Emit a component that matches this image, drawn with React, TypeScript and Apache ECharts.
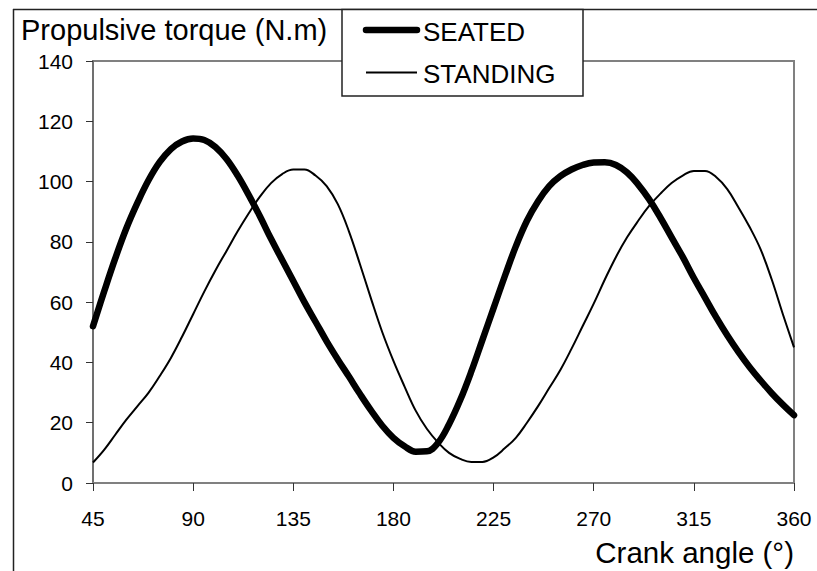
import React, { useEffect, useRef } from "react";
import * as echarts from "echarts";

// Crank angle (degrees) sampled every 5°
const angles: number[] = [
  45, 50, 55, 60, 65, 70, 75, 80, 85, 90, 95, 100, 105, 110, 115, 120,
  125, 130, 135, 140, 145, 150, 155, 160, 165, 170, 175, 180, 185, 190, 195, 200,
  205, 210, 215, 220, 225, 230, 235, 240, 245, 250, 255, 260, 265, 270, 275, 280,
  285, 290, 295, 300, 305, 310, 315, 320, 325, 330, 335, 340, 345, 350, 355, 360,
];

// Propulsive torque (N.m), seated pedalling
const seatedTorque: number[] = [
  52, 63.5, 74.5, 84.5, 93, 100.5, 106.5, 110.8, 113.3, 114.3, 113.8, 111.5, 107.5, 102, 95.5, 88.5,
  81, 74, 67, 60, 53.5, 47, 41, 35.3, 29.5, 24, 19, 15, 12.2, 10.4, 10.5, 13.3,
  19.5, 27.5, 37, 47.5, 58, 68.5, 78.5, 87, 93.5, 98.5, 101.8, 104, 105.5, 106.3, 106.4, 105.5,
  103, 99, 94, 88, 81.5, 75, 68, 61.5, 55, 49, 43.5, 38.5, 34, 29.8, 26, 22.5,
];

// Propulsive torque (N.m), standing pedalling
const standingTorque: number[] = [
  6.8, 11, 16, 21, 25.5, 30, 35.5, 41.5, 48.5, 56, 63.5, 70.5, 77, 83.5, 89.5, 95,
  99.5, 102.5, 104, 104, 102, 98.5, 92.5, 83.5, 72.5, 61, 50, 40.5, 32, 24, 18, 13.5,
  10, 8, 7, 7, 8.5, 11.5, 15, 20, 25.5, 31.5, 37.5, 44.5, 52, 59.5, 67.5, 75,
  81.5, 87, 92, 96, 99.5, 102, 103.5, 103.5, 101.5, 97.5, 91.5, 85, 77.5, 67.5, 56, 45,
];

const seriesNames: string[] = ["SEATED", "STANDING"];
const seriesWidths: number[] = [6.5, 2];
const yTitle = "Propulsive torque (N.m)";
const xTitle = "Crank angle (°)";

const FONT = "'Liberation Sans', Arial, Helvetica, sans-serif";

export default function App() {
  const ref = useRef<HTMLDivElement>(null);

  useEffect(() => {
    if (!ref.current) return;
    const chart = echarts.init(ref.current, undefined, { renderer: "svg" });

    const pairs = (ys: number[]) => angles.map((a, i) => [a, ys[i]]);

    // Hand-built legend box: line sample + label per series
    const legendRowY = [30, 72.5];
    const legendItems: any[] = [];
    seriesNames.forEach((name, i) => {
      legendItems.push({
        type: "line",
        shape: { x1: 366, y1: legendRowY[i], x2: 417, y2: legendRowY[i] },
        style: { stroke: "#000", lineWidth: seriesWidths[i], lineCap: i === 0 ? "round" : "butt" },
        z: 21,
      });
      legendItems.push({
        type: "text",
        x: 423,
        y: legendRowY[i] + 1.5,
        style: {
          text: name,
          fontSize: 26,
          fontFamily: FONT,
          fill: "#000",
          align: "left",
          verticalAlign: "middle",
        },
        z: 21,
      });
    });

    chart.setOption({
      animation: false,
      backgroundColor: "#ffffff",
      grid: {
        left: 93,
        right: 23,
        top: 61,
        bottom: 88,
        show: true,
        borderColor: "#808080",
        borderWidth: 2,
      },
      xAxis: {
        type: "value",
        min: 45,
        max: 360,
        interval: 45,
        axisLine: { show: true, lineStyle: { color: "#808080", width: 2 } },
        axisTick: { show: true, length: 8, lineStyle: { color: "#333", width: 1 } },
        axisLabel: { margin: 25, fontSize: 21, color: "#000", fontFamily: FONT },
        splitLine: { show: false },
      },
      yAxis: {
        type: "value",
        min: 0,
        max: 140,
        interval: 20,
        axisLine: { show: true, lineStyle: { color: "#707070", width: 2 } },
        axisTick: { show: true, length: 7, lineStyle: { color: "#333", width: 1 } },
        axisLabel: { margin: 20, fontSize: 21, color: "#000", fontFamily: FONT },
        splitLine: { show: false },
      },
      graphic: [
        {
          type: "line",
          shape: { x1: 13, y1: 9.5, x2: 820, y2: 9.5 },
          style: { stroke: "#222", lineWidth: 1.5 },
          z: 1,
        },
        {
          type: "line",
          shape: { x1: 13.5, y1: 9, x2: 13.5, y2: 575 },
          style: { stroke: "#222", lineWidth: 1.5 },
          z: 1,
        },
        {
          type: "text",
          x: 21,
          y: 30,
          style: {
            text: yTitle,
            fontSize: 29,
            fontFamily: FONT,
            fill: "#000",
            align: "left",
            verticalAlign: "middle",
          },
        },
        {
          type: "text",
          x: 794,
          y: 552,
          style: {
            text: xTitle,
            fontSize: 29.5,
            fontFamily: FONT,
            fill: "#000",
            align: "right",
            verticalAlign: "middle",
          },
        },
        {
          type: "rect",
          shape: { x: 342, y: 9.5, width: 241, height: 86.5 },
          style: { fill: "#ffffff", stroke: "#222", lineWidth: 1.5 },
          z: 20,
        },
        ...legendItems,
      ],
      series: [
        {
          name: seriesNames[0],
          type: "line",
          data: pairs(seatedTorque),
          smooth: 0.4,
          symbol: "none",
          lineStyle: { color: "#000", width: seriesWidths[0], cap: "round", join: "round" },
          itemStyle: { color: "#000" },
        },
        {
          name: seriesNames[1],
          type: "line",
          data: pairs(standingTorque),
          smooth: 0.4,
          symbol: "none",
          lineStyle: { color: "#000", width: seriesWidths[1], join: "round" },
          itemStyle: { color: "#000" },
        },
      ],
    });

    return () => chart.dispose();
  }, []);

  return (
    <div
      ref={ref}
      style={{ position: "fixed", left: 0, top: 0, width: 817, height: 571 }}
    />
  );
}
